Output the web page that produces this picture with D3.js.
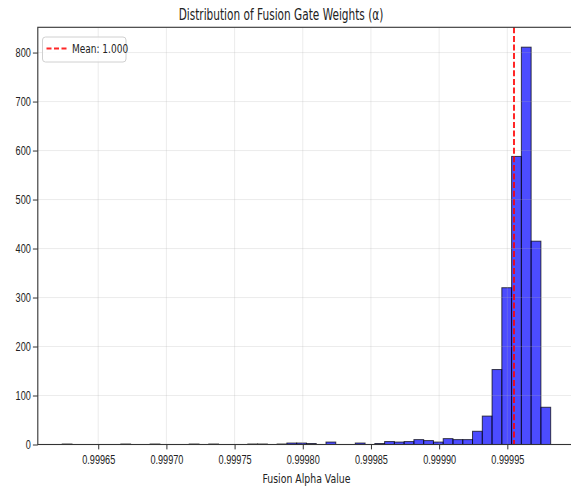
<!DOCTYPE html>
<html>
<head>
<meta charset="utf-8">
<script src="https://cdn.jsdelivr.net/npm/d3@7"></script>
<style>
    body { margin: 0; background: #fff; }
    svg { display: block; font-family: "DejaVu Sans", sans-serif; }
</style>
</head>
<body>
<div id="container"></div>
<script>
(function () {
    // histogram values
    var binStart = 0.9996236;
    var binWidth = 0.000007164;
    var counts = [
        1, 0, 0, 0, 0, 0, 1, 0, 0, 1,
        0, 0, 0, 1, 0, 1, 0, 0, 0, 1,
        1, 0, 1, 3, 3, 2, 0, 5, 0, 0,
        3, 0, 2, 6, 5, 6, 10, 8, 5, 12,
        10, 10, 27, 58, 153, 320, 588, 811, 415, 76
    ];
    var meanValue = 0.9999549;
    var meanLabel = "Mean: 1.000";
    var xTicks = [0.99965, 0.99970, 0.99975, 0.99980, 0.99985, 0.99990, 0.99995];
    var yTicks = [0, 100, 200, 300, 400, 500, 600, 700, 800];
    var titleText = "Distribution of Fusion Gate Weights (\u03b1)";
    var xLabel = "Fusion Alpha Value";

    // build the bins
    var bins = counts.map(function (c, i) {
        return { x0: binStart + i * binWidth, x1: binStart + (i + 1) * binWidth, count: c };
    });

    var width = 571;
    var height = 487;
    var left = 37.8, right = 575.1, top = 27.3, bottom = 444.5;
    var squeeze = 0.72;   // the picture's text is narrow

    var svg = d3.select('#container')
        .append("svg")
        .attr("width", width)
        .attr("height", height)
        .style("overflow", "hidden");

    // x with matplotlib style 5% margins
    var lo = bins[0].x0, hi = bins[bins.length - 1].x1;
    var pad = (hi - lo) * 0.05;
    var x = d3.scaleLinear()
        .domain([lo - pad, hi + pad])
        .range([left, right]);

    var y = d3.scaleLinear()
        .domain([0, d3.max(counts) * 1.05])
        .range([bottom, top]);

    // bars
    svg.append("g")
        .selectAll("rect")
        .data(bins)
        .enter()
        .append("rect")
        .attr("x", function (d) { return x(d.x0); })
        .attr("width", function (d) { return x(d.x1) - x(d.x0); })
        .attr("y", function (d) { return y(d.count); })
        .attr("height", function (d) { return y(0) - y(d.count); })
        .style("fill", "rgba(0,0,255,0.7)")
        .style("stroke", "rgba(0,0,0,0.7)")
        .style("stroke-width", 1);

    // grid lines sit above the bars
    var grid = svg.append("g")
        .style("stroke", "#b0b0b0")
        .style("stroke-opacity", 0.3)
        .style("stroke-width", 0.8);
    grid.selectAll(".gx")
        .data(xTicks)
        .enter()
        .append("line")
        .attr("x1", function (d) { return x(d); })
        .attr("x2", function (d) { return x(d); })
        .attr("y1", top)
        .attr("y2", bottom);
    grid.selectAll(".gy")
        .data(yTicks)
        .enter()
        .append("line")
        .attr("x1", left)
        .attr("x2", right)
        .attr("y1", function (d) { return y(d); })
        .attr("y2", function (d) { return y(d); });

    // mean line
    svg.append("line")
        .attr("x1", x(meanValue))
        .attr("x2", x(meanValue))
        .attr("y1", top)
        .attr("y2", bottom)
        .style("stroke", "red")
        .style("stroke-opacity", 0.85)
        .style("stroke-width", 2)
        .style("stroke-dasharray", "6,2.6");

    // axes
    var xAxis = svg.append("g")
        .attr("transform", "translate(0," + bottom + ")")
        .call(d3.axisBottom(x).tickValues(xTicks).tickFormat(d3.format(".5f"))
            .tickSizeInner(4.9).tickSizeOuter(0).tickPadding(5.6));
    xAxis.select(".domain").remove();
    xAxis.selectAll("text")
        .attr("transform", "scale(" + squeeze + ",1)")
        .style("font-size", "12.7px")
        .style("fill", "#222");

    var yAxis = svg.append("g")
        .attr("transform", "translate(" + left + ",0)")
        .call(d3.axisLeft(y).tickValues(yTicks)
            .tickSizeInner(4.9).tickSizeOuter(0).tickPadding(2));
    yAxis.select(".domain").remove();
    yAxis.selectAll("text")
        .attr("x", -7 / squeeze)
        .attr("transform", "scale(" + squeeze + ",1)")
        .style("font-size", "12.7px")
        .style("fill", "#222");
    svg.selectAll(".tick line").style("stroke", "#333");

    // frame
    svg.append("rect")
        .attr("x", left)
        .attr("y", top)
        .attr("width", right - left)
        .attr("height", bottom - top)
        .style("fill", "none")
        .style("stroke", "#333")
        .style("stroke-width", 1.1);

    // title and x label
    svg.append("text")
        .attr("transform", "translate(281,20) scale(0.68,1)")
        .attr("text-anchor", "middle")
        .style("font-size", "15.5px")
        .style("fill", "#222")
        .text(titleText);

    svg.append("text")
        .attr("transform", "translate(" + ((left + right) / 2) + ",482.5) scale(" + squeeze + ",1)")
        .attr("text-anchor", "middle")
        .style("font-size", "13px")
        .style("fill", "#222")
        .text(xLabel);

    // legend
    var legend = svg.append("g");
    legend.append("rect")
        .attr("x", 42.5)
        .attr("y", 37)
        .attr("width", 83.5)
        .attr("height", 25)
        .attr("rx", 3)
        .style("fill", "white")
        .style("fill-opacity", 0.8)
        .style("stroke", "#d0d0d0")
        .style("stroke-width", 1);
    legend.append("line")
        .attr("x1", 46.5)
        .attr("x2", 66.5)
        .attr("y1", 48.5)
        .attr("y2", 48.5)
        .style("stroke", "red")
        .style("stroke-opacity", 0.85)
        .style("stroke-width", 2)
        .style("stroke-dasharray", "5,2.5");
    legend.append("text")
        .attr("transform", "translate(72,53) scale(" + squeeze + ",1)")
        .style("font-size", "12.5px")
        .style("fill", "#222")
        .text(meanLabel);
})();
</script>
</body>
</html>
